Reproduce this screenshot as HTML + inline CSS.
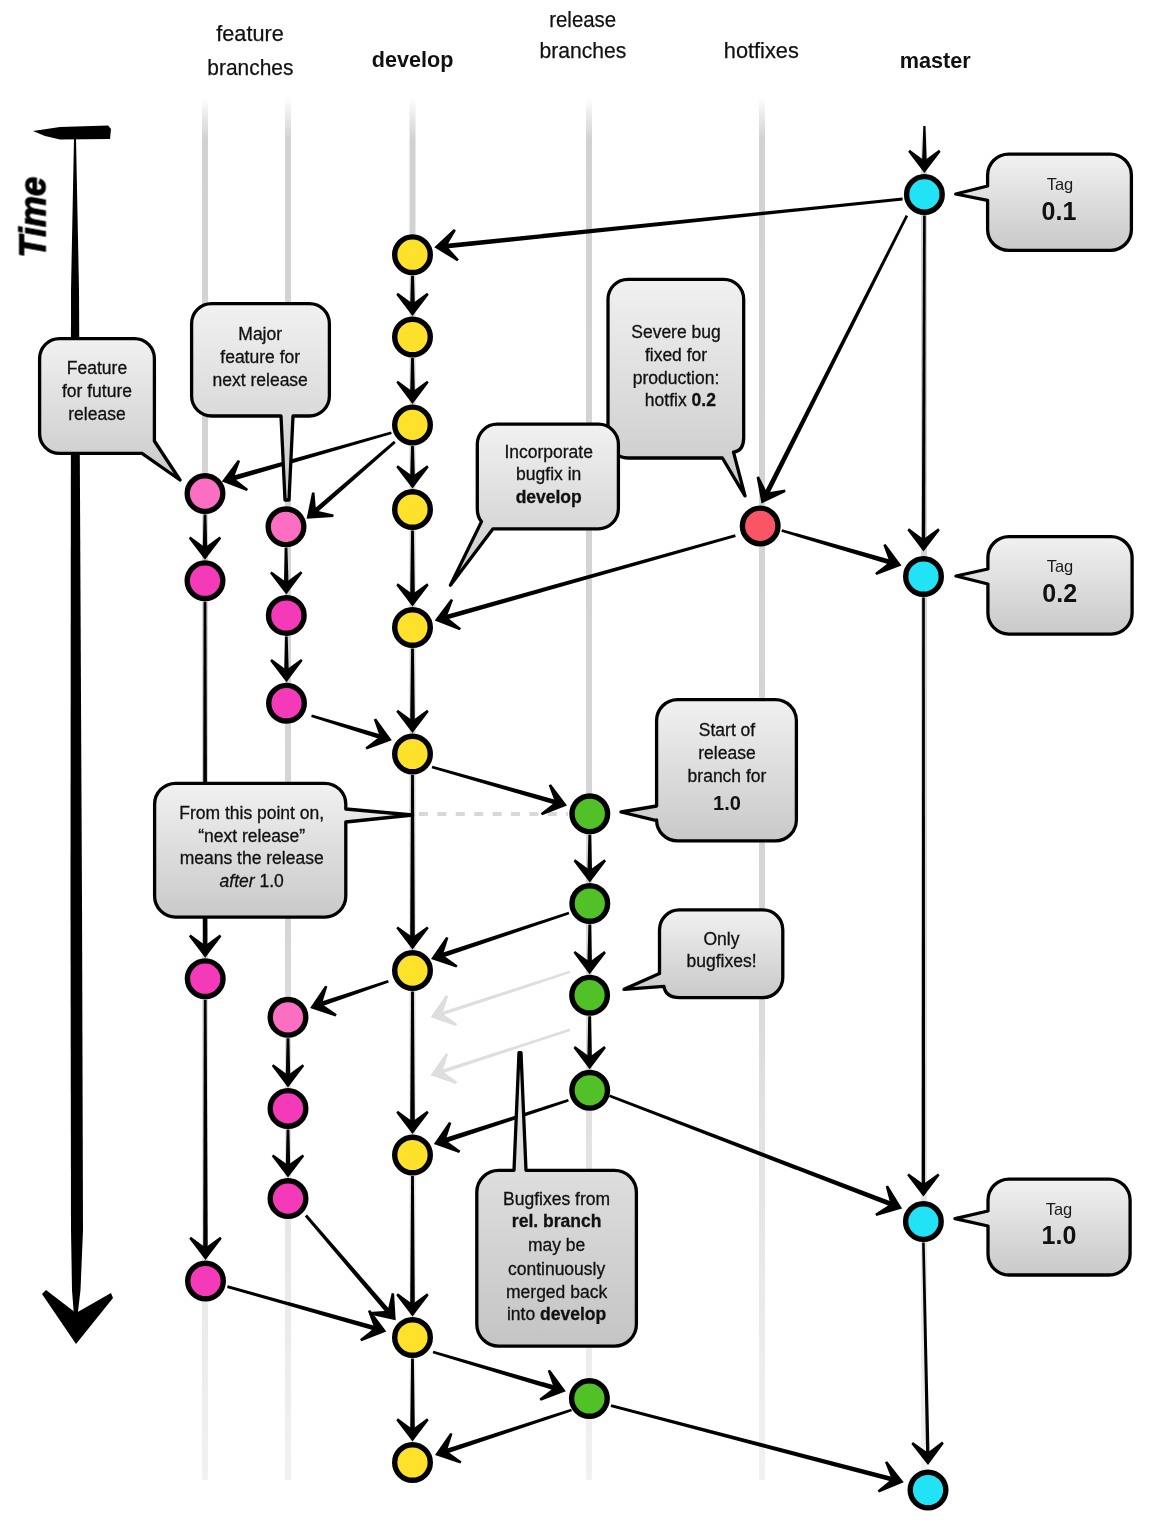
<!DOCTYPE html><html><head><meta charset="utf-8"><style>html,body{margin:0;padding:0;background:#fff;}svg{display:block} text{will-change:transform}</style></head><body>
<svg width="1150" height="1524" viewBox="0 0 1150 1524" font-family='"Liberation Sans", sans-serif'>
<defs>
<linearGradient id="gl" x1="0" y1="0" x2="0" y2="1"><stop offset="0" stop-color="#d2d2d2" stop-opacity="0"/><stop offset="0.03" stop-color="#d2d2d2"/><stop offset="0.6" stop-color="#d6d6d6"/><stop offset="1" stop-color="#e8e8e8" stop-opacity="0.6"/></linearGradient>
<linearGradient id="cg" x1="0" y1="0" x2="0" y2="1"><stop offset="0" stop-color="#f1f1f1"/><stop offset="1" stop-color="#c9c9c9"/></linearGradient>
<linearGradient id="cg2" gradientUnits="userSpaceOnUse" x1="0" y1="1052" x2="0" y2="1348"><stop offset="0" stop-color="#e6e6e6"/><stop offset="0.4" stop-color="#dedede"/><stop offset="1" stop-color="#c4c4c4"/></linearGradient>
</defs>
<rect x="202" y="97" width="6" height="1383" fill="url(#gl)"/>
<rect x="285" y="97" width="6" height="1383" fill="url(#gl)"/>
<rect x="409.5" y="97" width="6" height="1383" fill="url(#gl)"/>
<rect x="586" y="97" width="6" height="1383" fill="url(#gl)"/>
<rect x="759" y="97" width="6" height="1383" fill="url(#gl)"/>
<rect x="921" y="126" width="6" height="1354" fill="url(#gl)"/>
<text x="250" y="40.9" font-size="21.5" text-anchor="middle" fill="#111" textLength="67.4" lengthAdjust="spacingAndGlyphs" stroke="#111" stroke-width="0.25">feature</text>
<text x="250.4" y="75" font-size="21.5" text-anchor="middle" fill="#111" textLength="86.1" lengthAdjust="spacingAndGlyphs" stroke="#111" stroke-width="0.25">branches</text>
<text x="412.6" y="67.3" font-size="21.5" text-anchor="middle" fill="#111" font-weight="bold" textLength="81.6" lengthAdjust="spacingAndGlyphs">develop</text>
<text x="582.7" y="27" font-size="21.5" text-anchor="middle" fill="#111" textLength="67" lengthAdjust="spacingAndGlyphs" stroke="#111" stroke-width="0.25">release</text>
<text x="583" y="58.4" font-size="21.5" text-anchor="middle" fill="#111" textLength="86.8" lengthAdjust="spacingAndGlyphs" stroke="#111" stroke-width="0.25">branches</text>
<text x="761.3" y="58.4" font-size="21.5" text-anchor="middle" fill="#111" textLength="75" lengthAdjust="spacingAndGlyphs" stroke="#111" stroke-width="0.25">hotfixes</text>
<text x="935.3" y="67.6" font-size="21.5" text-anchor="middle" fill="#111" font-weight="bold" textLength="71" lengthAdjust="spacingAndGlyphs">master</text>
<text x="0" y="0" font-size="37.5" font-weight="bold" font-style="italic" fill="#000" stroke="#000" stroke-width="1.1" textLength="81" lengthAdjust="spacingAndGlyphs" transform="translate(45.5 257.6) rotate(-90)">Time</text>
<path d="M33 131 L60 127 L108 125.5 L111 129 L110 139 L60 139.5 L45 136 Z" fill="#000"/>
<path d="M74 138 L76 138 L79 290 L82 900 L83 1230 L80.5 1290 L77.5 1316 L74 1316 L72 1290 L71 1230 L70.5 900 L71 290 Z" fill="#000"/>
<path d="M42 1294 L46 1290 L76 1313 L111 1293 L113 1298 L76 1344 Z" fill="#000"/>
<line x1="419" y1="814" x2="568" y2="814" stroke="#d8d8d8" stroke-width="4" stroke-dasharray="9 9.4"/>
<path d="M569.6 970.7 L441.5 1011.9 L442.6 1015.3 L570.4 973.1Z" fill="#dedede"/><path d="M430.6 1017.3 L455.9 1026.1 L457.2 1024 L442.5 1013.4 L448.1 996.2 L445.8 995.3Z" fill="#dedede"/>
<path d="M569.6 1028.6 L441.5 1069.8 L442.6 1073.2 L570.4 1031Z" fill="#dedede"/><path d="M430.6 1075.2 L455.9 1084 L457.2 1081.9 L442.5 1071.3 L448.1 1054.1 L445.8 1053.2Z" fill="#dedede"/>
<path d="M923.3 126 L922.1 161 L926.7 161 L925.5 126Z" fill="#000"/><path d="M924.4 173 L940.6 151.7 L939 149.8 L924.4 160.5 L909.8 149.8 L908.2 151.7Z" fill="#000"/>
<path d="M902.5 197.6 L446 243.7 L446.5 248.5 L902.7 200.4Z" fill="#000"/><path d="M434.3 247.3 L457.1 261.2 L458.9 259.4 L446.7 246 L455.9 230.4 L453.8 229Z" fill="#000"/>
<path d="M905.7 215 L764.8 491.8 L769.1 494 L908.1 216.2Z" fill="#000"/><path d="M761.5 503.6 L785.6 491.9 L785 489.5 L767.1 492.4 L758.9 476.3 L756.6 477.3Z" fill="#000"/>
<path d="M781.3 531.8 L889.3 564.4 L890.7 559.8 L782.1 529.2Z" fill="#000"/><path d="M901.5 565.5 L885.6 544 L883.3 545 L889.5 562 L875.1 573 L876.5 575.1Z" fill="#000"/>
<path d="M735 534.3 L445.6 614.9 L446.9 619.5 L735.8 536.9Z" fill="#000"/><path d="M434.7 620.5 L459.6 630.3 L461 628.2 L446.7 617.1 L453.1 600.1 L450.8 599.1Z" fill="#000"/>
<path d="M391 431.5 L232.7 475.8 L234 480.4 L391.8 434.1Z" fill="#000"/><path d="M221.8 481.4 L246.7 491.1 L248.1 489 L233.8 478 L240.1 461 L237.8 460Z" fill="#000"/>
<path d="M393.9 440.7 L314.1 509 L317.2 512.6 L395.7 442.9Z" fill="#000"/><path d="M306.6 518.7 L333.3 516.9 L333.7 514.5 L316 510.5 L314.5 492.4 L312 492.5Z" fill="#000"/>
<path d="M311.1 717.1 L379.6 739 L381 734.4 L311.9 714.5Z" fill="#000"/><path d="M391.8 740.2 L376.1 718.5 L373.8 719.5 L379.8 736.6 L365.4 747.4 L366.7 749.5Z" fill="#000"/>
<path d="M431.6 768.3 L554.8 804.6 L556.1 800 L432.4 765.7Z" fill="#000"/><path d="M567 805.6 L551 784.2 L548.7 785.2 L555 802.2 L540.7 813.3 L542.1 815.3Z" fill="#000"/>
<path d="M568.6 911.7 L441.6 952.9 L443.1 957.5 L569.4 914.3Z" fill="#000"/><path d="M431 959 L456.3 967.6 L457.6 965.5 L442.9 955 L448.4 937.8 L446.1 936.9Z" fill="#000"/>
<path d="M387.9 980 L320.7 1001.8 L322.2 1006.3 L388.9 982.6Z" fill="#000"/><path d="M310.1 1007.9 L335.5 1016.4 L336.8 1014.3 L321.9 1003.9 L327.4 986.6 L325.1 985.7Z" fill="#000"/>
<path d="M568 1099 L444.5 1138.1 L446 1142.7 L568.8 1101.6Z" fill="#000"/><path d="M433.8 1144.1 L459.1 1152.9 L460.4 1150.8 L445.7 1140.2 L451.3 1123 L449 1122.1Z" fill="#000"/>
<path d="M608.9 1097 L890 1206.3 L891.8 1201.8 L609.9 1094.4Z" fill="#000"/><path d="M902.1 1208.4 L888 1185.6 L885.7 1186.4 L890.4 1203.9 L875.2 1213.7 L876.4 1215.9Z" fill="#000"/>
<path d="M304.8 1216.4 L386.1 1312.7 L389.7 1309.5 L307 1214.6Z" fill="#000"/><path d="M395.7 1320.2 L394.1 1293.5 L391.7 1293.1 L387.6 1310.7 L369.5 1312.1 L369.5 1314.6Z" fill="#000"/>
<path d="M227 1287.9 L374.1 1330.5 L375.4 1325.9 L227.8 1285.3Z" fill="#000"/><path d="M386.3 1331.5 L370.2 1310.1 L367.9 1311.1 L374.3 1328.1 L360 1339.2 L361.4 1341.3Z" fill="#000"/>
<path d="M432.6 1353.3 L553.6 1390.2 L555 1385.6 L433.4 1350.7Z" fill="#000"/><path d="M565.8 1391.3 L550 1369.7 L547.7 1370.7 L553.8 1387.8 L539.4 1398.7 L540.8 1400.8Z" fill="#000"/>
<path d="M571.1 1408.7 L445.6 1448.9 L447.1 1453.4 L571.9 1411.3Z" fill="#000"/><path d="M435 1454.9 L460.3 1463.6 L461.6 1461.5 L446.9 1451 L452.5 1433.8 L450.2 1432.9Z" fill="#000"/>
<path d="M610.6 1407 L891.5 1481.6 L892.7 1476.9 L611.4 1404.2Z" fill="#000"/><path d="M903.7 1482.3 L887.2 1461.2 L885 1462.3 L891.6 1479.1 L877.6 1490.5 L879 1492.6Z" fill="#000"/>
<path d="M411.1 275.7 L410.2 304 L414.8 304 L413.9 275.7Z" fill="#000"/><path d="M412.5 316 L428.7 294.7 L427.1 292.8 L412.5 303.5 L397.9 292.8 L396.3 294.7Z" fill="#000"/>
<path d="M411.1 358 L410.2 391.9 L414.8 391.9 L413.9 358Z" fill="#000"/><path d="M412.5 403.9 L428.7 382.6 L427.1 380.7 L412.5 391.4 L397.9 380.7 L396.3 382.6Z" fill="#000"/>
<path d="M411.1 445.9 L410.2 476.5 L414.8 476.5 L413.9 445.9Z" fill="#000"/><path d="M412.5 488.5 L428.7 467.2 L427.1 465.3 L412.5 476 L397.9 465.3 L396.3 467.2Z" fill="#000"/>
<path d="M411.1 530.5 L410.2 594.5 L414.8 594.5 L413.9 530.5Z" fill="#000"/><path d="M412.5 606.5 L428.7 585.2 L427.1 583.3 L412.5 594 L397.9 583.3 L396.3 585.2Z" fill="#000"/>
<path d="M411.1 648.5 L410.2 721 L414.8 721 L413.9 648.5Z" fill="#000"/><path d="M412.5 733 L428.7 711.7 L427.1 709.8 L412.5 720.5 L397.9 709.8 L396.3 711.7Z" fill="#000"/>
<path d="M411.1 775 L410.2 937.6 L414.8 937.6 L413.9 775Z" fill="#000"/><path d="M412.5 949.6 L428.7 928.3 L427.1 926.4 L412.5 937.1 L397.9 926.4 L396.3 928.3Z" fill="#000"/>
<path d="M411.1 991.6 L410.2 1122 L414.8 1122 L413.9 991.6Z" fill="#000"/><path d="M412.5 1134 L428.7 1112.7 L427.1 1110.8 L412.5 1121.5 L397.9 1110.8 L396.3 1112.7Z" fill="#000"/>
<path d="M411.1 1176 L410.2 1304.5 L414.8 1304.5 L413.9 1176Z" fill="#000"/><path d="M412.5 1316.5 L428.7 1295.2 L427.1 1293.3 L412.5 1304 L397.9 1293.3 L396.3 1295.2Z" fill="#000"/>
<path d="M411.1 1358.5 L410.2 1429.5 L414.8 1429.5 L413.9 1358.5Z" fill="#000"/><path d="M412.5 1441.5 L428.7 1420.2 L427.1 1418.3 L412.5 1429 L397.9 1418.3 L396.3 1420.2Z" fill="#000"/>
<path d="M203.6 514.6 L202.8 547.7 L207.2 547.7 L206.4 514.6Z" fill="#000"/><path d="M205 559.7 L221.2 538.4 L219.6 536.5 L205 547.2 L190.4 536.5 L188.8 538.4Z" fill="#000"/>
<path d="M203.6 601.7 L202.9 945.7 L207.4 945.7 L206.4 601.7Z" fill="#000"/><path d="M205.2 957.7 L221.4 936.4 L219.8 934.5 L205.2 945.2 L190.6 934.5 L189 936.4Z" fill="#000"/>
<path d="M203.8 999.7 L203.2 1248 L207.7 1248 L206.6 999.7Z" fill="#000"/><path d="M205.5 1260 L221.7 1238.7 L220.1 1236.8 L205.5 1247.5 L190.9 1236.8 L189.3 1238.7Z" fill="#000"/>
<path d="M284.6 547.8 L284 582.5 L288.5 582.5 L287.4 547.8Z" fill="#000"/><path d="M286.3 594.5 L302.4 573.1 L300.8 571.2 L286.2 582 L271.6 571.4 L270 573.3Z" fill="#000"/>
<path d="M284.9 636.5 L284.2 670.2 L288.7 670.2 L287.7 636.5Z" fill="#000"/><path d="M286.5 682.2 L302.6 660.8 L301 658.9 L286.4 669.7 L271.8 659.1 L270.2 661Z" fill="#000"/>
<path d="M286.6 1038.3 L285.8 1075.4 L290.2 1075.4 L289.4 1038.3Z" fill="#000"/><path d="M288 1087.4 L304.2 1066.1 L302.6 1064.2 L288 1074.9 L273.4 1064.2 L271.8 1066.1Z" fill="#000"/>
<path d="M286.6 1129.4 L285.8 1165.6 L290.2 1165.6 L289.4 1129.4Z" fill="#000"/><path d="M288 1177.6 L304.2 1156.3 L302.6 1154.4 L288 1165.1 L273.4 1154.4 L271.8 1156.3Z" fill="#000"/>
<path d="M588.4 834.8 L587.5 870.5 L592 870.5 L591.2 834.8Z" fill="#000"/><path d="M589.8 882.5 L606 861.2 L604.4 859.3 L589.8 870 L575.2 859.3 L573.6 861.2Z" fill="#000"/>
<path d="M588.4 924.5 L587.4 962.2 L591.9 962.2 L591.2 924.5Z" fill="#000"/><path d="M589.6 974.2 L605.9 953 L604.3 951.1 L589.7 961.7 L575.1 950.9 L573.5 952.8Z" fill="#000"/>
<path d="M588.2 1016.2 L587.4 1057.3 L591.9 1057.3 L591 1016.2Z" fill="#000"/><path d="M589.7 1069.3 L605.9 1048 L604.3 1046.1 L589.7 1056.8 L575.1 1046.1 L573.5 1048Z" fill="#000"/>
<path d="M923.1 215.4 L921.8 539.5 L925.2 539.5 L925.7 215.4Z" fill="#000"/><path d="M923.5 551.5 L939.8 530.2 L938.2 528.3 L923.5 539 L909 528.3 L907.4 530.2Z" fill="#000"/>
<path d="M922.2 597.5 L921.7 1184.6 L925.1 1184.6 L924.8 597.5Z" fill="#000"/><path d="M923.4 1196.6 L939.6 1175.3 L938 1173.4 L923.4 1184.1 L908.8 1173.4 L907.2 1175.3Z" fill="#000"/>
<path d="M922.1 1242.6 L926.1 1453 L929.5 1453 L924.7 1242.6Z" fill="#000"/><path d="M928 1465 L943.8 1443.4 L942.1 1441.5 L927.7 1452.5 L912.9 1442.1 L911.4 1444Z" fill="#000"/>
<circle cx="412.5" cy="254.7" r="17.8" fill="#fee12b" stroke="#000" stroke-width="5.4"/>
<circle cx="412.5" cy="337" r="17.8" fill="#fee12b" stroke="#000" stroke-width="5.4"/>
<circle cx="412.5" cy="424.9" r="17.8" fill="#fee12b" stroke="#000" stroke-width="5.4"/>
<circle cx="412.5" cy="509.5" r="17.8" fill="#fee12b" stroke="#000" stroke-width="5.4"/>
<circle cx="412.5" cy="627.5" r="17.8" fill="#fee12b" stroke="#000" stroke-width="5.4"/>
<circle cx="412.5" cy="754" r="17.8" fill="#fee12b" stroke="#000" stroke-width="5.4"/>
<circle cx="412.5" cy="970.6" r="17.8" fill="#fee12b" stroke="#000" stroke-width="5.4"/>
<circle cx="412.5" cy="1155" r="17.8" fill="#fee12b" stroke="#000" stroke-width="5.4"/>
<circle cx="412.5" cy="1337.5" r="17.8" fill="#fee12b" stroke="#000" stroke-width="5.4"/>
<circle cx="412.5" cy="1462.5" r="17.8" fill="#fee12b" stroke="#000" stroke-width="5.4"/>
<circle cx="205" cy="493.6" r="17.8" fill="#fc6ec2" stroke="#000" stroke-width="5.4"/>
<circle cx="205" cy="580.7" r="17.8" fill="#f43ab8" stroke="#000" stroke-width="5.4"/>
<circle cx="205.2" cy="978.7" r="17.8" fill="#f43ab8" stroke="#000" stroke-width="5.4"/>
<circle cx="205.5" cy="1281" r="17.8" fill="#f43ab8" stroke="#000" stroke-width="5.4"/>
<circle cx="286" cy="526.8" r="17.8" fill="#fc6ec2" stroke="#000" stroke-width="5.4"/>
<circle cx="286.3" cy="615.5" r="17.8" fill="#f43ab8" stroke="#000" stroke-width="5.4"/>
<circle cx="286.5" cy="703.2" r="17.8" fill="#f43ab8" stroke="#000" stroke-width="5.4"/>
<circle cx="288" cy="1017.3" r="17.8" fill="#fc6ec2" stroke="#000" stroke-width="5.4"/>
<circle cx="288" cy="1108.4" r="17.8" fill="#f43ab8" stroke="#000" stroke-width="5.4"/>
<circle cx="288" cy="1198.6" r="17.8" fill="#f43ab8" stroke="#000" stroke-width="5.4"/>
<circle cx="589.8" cy="813.8" r="17.8" fill="#52c127" stroke="#000" stroke-width="5.4"/>
<circle cx="589.8" cy="903.5" r="17.8" fill="#52c127" stroke="#000" stroke-width="5.4"/>
<circle cx="589.6" cy="995.2" r="17.8" fill="#52c127" stroke="#000" stroke-width="5.4"/>
<circle cx="589.7" cy="1090.3" r="17.8" fill="#52c127" stroke="#000" stroke-width="5.4"/>
<circle cx="589.4" cy="1398.5" r="17.8" fill="#52c127" stroke="#000" stroke-width="5.4"/>
<circle cx="760.2" cy="525.9" r="17.8" fill="#fa5565" stroke="#000" stroke-width="5.4"/>
<circle cx="924.4" cy="194.4" r="17.8" fill="#22e2f5" stroke="#000" stroke-width="5.4"/>
<circle cx="923.5" cy="576.5" r="17.8" fill="#22e2f5" stroke="#000" stroke-width="5.4"/>
<circle cx="923.4" cy="1221.6" r="17.8" fill="#22e2f5" stroke="#000" stroke-width="5.4"/>
<circle cx="928" cy="1490" r="17.8" fill="#22e2f5" stroke="#000" stroke-width="5.4"/>
<path d="M59.6 338.6 L134.4 338.6 A20 20 0 0 1 154.4 358.6 L154.4 441 L180 480 L142 453.4 L59.6 453.4 A20 20 0 0 1 39.6 433.4 L39.6 358.6 A20 20 0 0 1 59.6 338.6 Z" fill="url(#cg)" stroke="#000" stroke-width="3.3" stroke-linejoin="round"/>
<text x="97" y="373.6" font-size="17.5" text-anchor="middle" fill="#111" stroke="#111" stroke-width="0.3">Feature</text>
<text x="97" y="396.5" font-size="17.5" text-anchor="middle" fill="#111" stroke="#111" stroke-width="0.3">for future</text>
<text x="97" y="419.5" font-size="17.5" text-anchor="middle" fill="#111" stroke="#111" stroke-width="0.3">release</text>
<path d="M211.6 303.6 L309.4 303.6 A20 20 0 0 1 329.4 323.6 L329.4 396 A20 20 0 0 1 309.4 416 L293 416 L289 500 L285 500 L281 416 L211.6 416 A20 20 0 0 1 191.6 396 L191.6 323.6 A20 20 0 0 1 211.6 303.6 Z" fill="url(#cg)" stroke="#000" stroke-width="3.3" stroke-linejoin="round"/>
<text x="260.2" y="340" font-size="17.5" text-anchor="middle" fill="#111" stroke="#111" stroke-width="0.3">Major</text>
<text x="260.2" y="362.8" font-size="17.5" text-anchor="middle" fill="#111" stroke="#111" stroke-width="0.3">feature for</text>
<text x="260.2" y="385.7" font-size="17.5" text-anchor="middle" fill="#111" stroke="#111" stroke-width="0.3">next release</text>
<path d="M628 279.3 L723.7 279.3 A20 20 0 0 1 743.7 299.3 L743.7 438 Q743.5 451 733.5 452.2 L745 495.8 L722.4 458 L628 458 A20 20 0 0 1 608 438 L608 299.3 A20 20 0 0 1 628 279.3 Z" fill="url(#cg)" stroke="#000" stroke-width="3.3" stroke-linejoin="round"/>
<text x="676" y="338.4" font-size="17.5" text-anchor="middle" fill="#111" stroke="#111" stroke-width="0.3">Severe bug</text>
<text x="676" y="360.5" font-size="17.5" text-anchor="middle" fill="#111" stroke="#111" stroke-width="0.3">fixed for</text>
<text x="676" y="383.6" font-size="17.5" text-anchor="middle" fill="#111" stroke="#111" stroke-width="0.3">production:</text>
<text x="676" y="406.4" font-size="17.5" text-anchor="middle" fill="#111" stroke="#111" stroke-width="0.3"> hotfix <tspan font-weight="bold">0.2</tspan></text>
<path d="M497.3 424.2 L598.4 424.2 A20 20 0 0 1 618.4 444.2 L618.4 508.8 A20 20 0 0 1 598.4 528.8 L493 528.8 L450.4 585.2 L481.5 521.6 Q477.3 517 477.3 508.8 L477.3 444.2 A20 20 0 0 1 497.3 424.2 Z" fill="url(#cg)" stroke="#000" stroke-width="3.3" stroke-linejoin="round"/>
<text x="548.7" y="457.9" font-size="17.5" text-anchor="middle" fill="#111" stroke="#111" stroke-width="0.3">Incorporate</text>
<text x="548.7" y="480.3" font-size="17.5" text-anchor="middle" fill="#111" stroke="#111" stroke-width="0.3">bugfix in</text>
<text x="548.7" y="503" font-size="17.5" text-anchor="middle" fill="#111" stroke="#111" stroke-width="0.3"><tspan font-weight="bold">develop</tspan></text>
<path d="M1008.6 154.1 L1110.4 154.1 A21 21 0 0 1 1131.4 175.1 L1131.4 229.4 A21 21 0 0 1 1110.4 250.4 L1008.6 250.4 A21 21 0 0 1 987.6 229.4 L987.6 200.4 L955.7 194 L987.6 186 L987.6 175.1 A21 21 0 0 1 1008.6 154.1 Z" fill="url(#cg)" stroke="#000" stroke-width="3.3" stroke-linejoin="round"/>
<text x="1060" y="190" font-size="16.5" text-anchor="middle" fill="#1a1a1a">Tag</text>
<text x="1059" y="219.5" font-size="25" text-anchor="middle" fill="#111" font-weight="bold">0.1</text>
<path d="M1008.9 536.6 L1111.1 536.6 A21 21 0 0 1 1132.1 557.6 L1132.1 613.1 A21 21 0 0 1 1111.1 634.1 L1008.9 634.1 A21 21 0 0 1 987.9 613.1 L987.9 584 L956 576 L987.9 569 L987.9 557.6 A21 21 0 0 1 1008.9 536.6 Z" fill="url(#cg)" stroke="#000" stroke-width="3.3" stroke-linejoin="round"/>
<text x="1060" y="571.7" font-size="16.5" text-anchor="middle" fill="#1a1a1a">Tag</text>
<text x="1059.7" y="601.7" font-size="25" text-anchor="middle" fill="#111" font-weight="bold">0.2</text>
<path d="M1009 1179.1 L1109.1 1179.1 A21 21 0 0 1 1130.1 1200.1 L1130.1 1254 A21 21 0 0 1 1109.1 1275 L1009 1275 A21 21 0 0 1 988 1254 L988 1226 L955 1218.6 L988 1211 L988 1200.1 A21 21 0 0 1 1009 1179.1 Z" fill="url(#cg)" stroke="#000" stroke-width="3.3" stroke-linejoin="round"/>
<text x="1059" y="1214.6" font-size="16.5" text-anchor="middle" fill="#1a1a1a">Tag</text>
<text x="1059" y="1244.4" font-size="25" text-anchor="middle" fill="#111" font-weight="bold">1.0</text>
<path d="M677.6 699.6 L775.4 699.6 A21 21 0 0 1 796.4 720.6 L796.4 819.9 A21 21 0 0 1 775.4 840.9 L677.6 840.9 A21 21 0 0 1 656.6 819.9 L656.6 820.6 L621 812 L656.6 806 L656.6 720.6 A21 21 0 0 1 677.6 699.6 Z" fill="url(#cg)" stroke="#000" stroke-width="3.3" stroke-linejoin="round"/>
<text x="727" y="735.5" font-size="17.5" text-anchor="middle" fill="#111" stroke="#111" stroke-width="0.3">Start of</text>
<text x="727" y="758.5" font-size="17.5" text-anchor="middle" fill="#111" stroke="#111" stroke-width="0.3">release</text>
<text x="727" y="781.5" font-size="17.5" text-anchor="middle" fill="#111" stroke="#111" stroke-width="0.3">branch for</text>
<text x="727" y="809.7" font-size="20" text-anchor="middle" fill="#111" font-weight="bold">1.0</text>
<path d="M175.6 783.3 L324.8 783.3 A21 21 0 0 1 345.8 804.3 L345.8 809 L412.6 815 L345.8 822 L345.8 896.1 A21 21 0 0 1 324.8 917.1 L175.6 917.1 A21 21 0 0 1 154.6 896.1 L154.6 804.3 A21 21 0 0 1 175.6 783.3 Z" fill="url(#cg)" stroke="#000" stroke-width="3.3" stroke-linejoin="round"/>
<text x="251.7" y="819" font-size="17.5" text-anchor="middle" fill="#111" stroke="#111" stroke-width="0.3">From this point on,</text>
<text x="251.7" y="841.7" font-size="17.5" text-anchor="middle" fill="#111" stroke="#111" stroke-width="0.3">“next release”</text>
<text x="251.7" y="864.4" font-size="17.5" text-anchor="middle" fill="#111" stroke="#111" stroke-width="0.3">means the release</text>
<text x="251.7" y="887.4" font-size="17.5" text-anchor="middle" fill="#111" stroke="#111" stroke-width="0.3"><tspan font-style="italic">after</tspan> 1.0</text>
<path d="M679.5 909.9 L762.8 909.9 A20 20 0 0 1 782.8 929.9 L782.8 977.6 A20 20 0 0 1 762.8 997.6 L679.5 997.6 Q665.5 997.5 663.9 986.3 L624 989.3 L659.5 973.6 L659.5 929.9 A20 20 0 0 1 679.5 909.9 Z" fill="url(#cg)" stroke="#000" stroke-width="3.3" stroke-linejoin="round"/>
<text x="721.5" y="944.6" font-size="17.5" text-anchor="middle" fill="#111" stroke="#111" stroke-width="0.3">Only</text>
<text x="721.5" y="967.4" font-size="17.5" text-anchor="middle" fill="#111" stroke="#111" stroke-width="0.3">bugfixes!</text>
<path d="M498.8 1170.3 L514 1170.3 L519 1052.6 L521 1052.6 L526 1170.3 L614.4 1170.3 A22 22 0 0 1 636.4 1192.3 L636.4 1324.2 A22 22 0 0 1 614.4 1346.2 L498.8 1346.2 A22 22 0 0 1 476.8 1324.2 L476.8 1192.3 A22 22 0 0 1 498.8 1170.3 Z" fill="url(#cg2)" stroke="#000" stroke-width="3.3" stroke-linejoin="round"/>
<text x="556.6" y="1204.9" font-size="17.5" text-anchor="middle" fill="#111" stroke="#111" stroke-width="0.3">Bugfixes from</text>
<text x="556.6" y="1227.3" font-size="17.5" text-anchor="middle" fill="#111" stroke="#111" stroke-width="0.3"><tspan font-weight="bold">rel. branch</tspan></text>
<text x="556.6" y="1251.3" font-size="17.5" text-anchor="middle" fill="#111" stroke="#111" stroke-width="0.3">may be</text>
<text x="556.6" y="1274.8" font-size="17.5" text-anchor="middle" fill="#111" stroke="#111" stroke-width="0.3">continuously</text>
<text x="556.6" y="1297.5" font-size="17.5" text-anchor="middle" fill="#111" stroke="#111" stroke-width="0.3">merged back</text>
<text x="556.6" y="1319.7" font-size="17.5" text-anchor="middle" fill="#111" stroke="#111" stroke-width="0.3">into <tspan font-weight="bold">develop</tspan></text>
</svg></body></html>
